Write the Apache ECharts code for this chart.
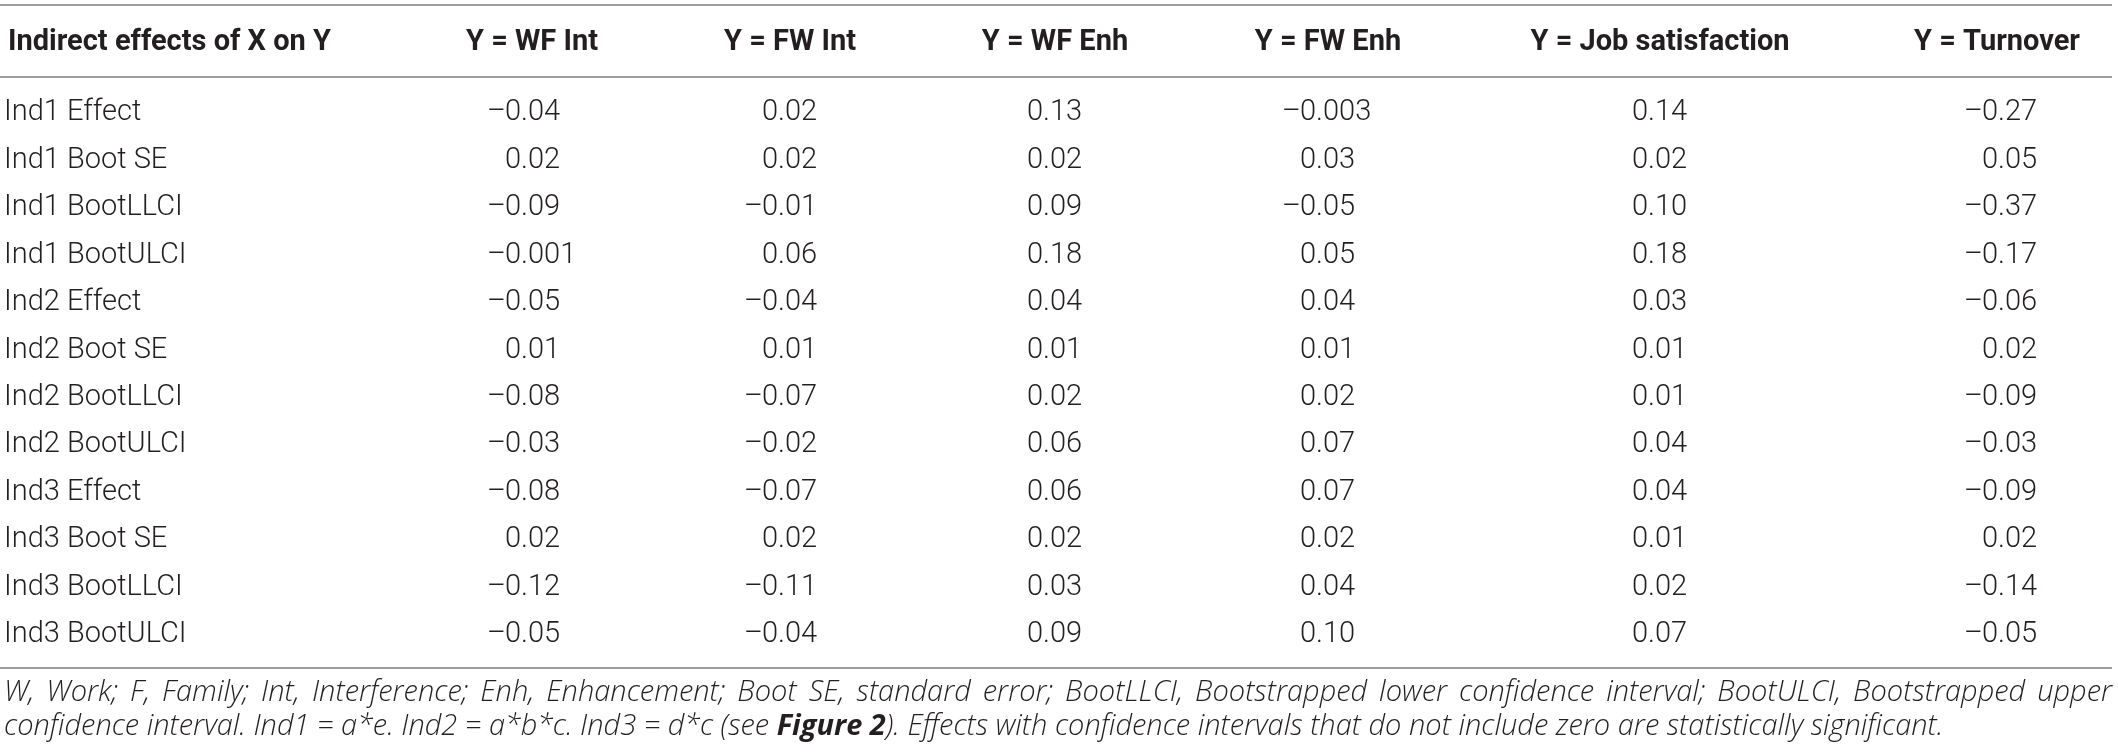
<!DOCTYPE html>
<html>
<head>
<meta charset="utf-8">
<script src="https://cdn.jsdelivr.net/npm/echarts@6/dist/echarts.min.js"></script>
<style>
  html, body { margin: 0; padding: 0; background: #fff; }
  #chart { width: 2118px; height: 754px; }
</style>
</head>
<body>
<div id="chart"></div>
<script>
// table content
const rowLabels = [
  'Ind1 Effect', 'Ind1 Boot SE', 'Ind1 BootLLCI', 'Ind1 BootULCI',
  'Ind2 Effect', 'Ind2 Boot SE', 'Ind2 BootLLCI', 'Ind2 BootULCI',
  'Ind3 Effect', 'Ind3 Boot SE', 'Ind3 BootLLCI', 'Ind3 BootULCI'
];
const cornerHeader = 'Indirect effects of X on Y';
const colHeaders = ['Y = WF Int', 'Y = FW Int', 'Y = WF Enh', 'Y = FW Enh', 'Y = Job satisfaction', 'Y = Turnover'];

const wfInt = ['-0.04', '0.02', '-0.09', '-0.001', '-0.05', '0.01', '-0.08', '-0.03', '-0.08', '0.02', '-0.12', '-0.05'];
const fwInt = ['0.02', '0.02', '-0.01', '0.06', '-0.04', '0.01', '-0.07', '-0.02', '-0.07', '0.02', '-0.11', '-0.04'];
const wfEnh = ['0.13', '0.02', '0.09', '0.18', '0.04', '0.01', '0.02', '0.06', '0.06', '0.02', '0.03', '0.09'];
const fwEnh = ['-0.003', '0.03', '-0.05', '0.05', '0.04', '0.01', '0.02', '0.07', '0.07', '0.02', '0.04', '0.10'];
const jobSat = ['0.14', '0.02', '0.10', '0.18', '0.03', '0.01', '0.01', '0.04', '0.04', '0.01', '0.02', '0.07'];
const turnover = ['-0.27', '0.05', '-0.37', '-0.17', '-0.06', '0.02', '-0.09', '-0.03', '-0.09', '0.02', '-0.14', '-0.05'];

const footLine1 = 'W, Work; F, Family; Int, Interference; Enh, Enhancement; Boot SE, standard error; BootLLCI, Bootstrapped lower confidence interval; BootULCI, Bootstrapped upper';
const footLine2a = 'confidence interval. Ind1 = a*e. Ind2 = a*b*c. Ind3 = d*c (see ';
const footLine2b = 'Figure 2';
const footLine2c = '). Effects with confidence intervals that do not include zero are statistically significant.';

const columns = [wfInt, fwInt, wfEnh, fwEnh, jobSat, turnover];

// layout (pixel positions on the hidden x axis)
const colValueX = [505, 762, 1027, 1300, 1632, 1982];
const colHeaderX = [532, 790, 1055, 1328, 1660, 1997];

const INK = '#231f20';
const RULE = '#9d9d9d';
const BODY_FONT = 'Roboto, "Liberation Sans", sans-serif';
const NOTE_FONT = '"Open Sans", Roboto, sans-serif';
const NOTE_SIZE = 29;

const cells = [];
columns.forEach((col, c) => col.forEach((v, r) => cells.push([c, r])));

// justify the first footnote line across the table width
const measureCtx = document.createElement('canvas').getContext('2d');
measureCtx.font = 'italic 300 ' + NOTE_SIZE + 'px ' + NOTE_FONT;
const noteWords = footLine1.split(' ');
const wordWidths = noteWords.map((w) => measureCtx.measureText(w).width);
const noteLeft = 4, noteRight = 2112;
const gap = (noteRight - noteLeft - wordWidths.reduce((a, b) => a + b, 0)) / (noteWords.length - 1);
const noteStyle = {
  fontFamily: NOTE_FONT, fontStyle: 'italic', fontWeight: 300, fontSize: NOTE_SIZE, fill: INK
};
const line1Words = [];
let cursor = noteLeft;
noteWords.forEach((w, i) => {
  line1Words.push({
    type: 'text', x: cursor, y: 693,
    style: Object.assign({ text: w, align: 'left', verticalAlign: 'middle' }, noteStyle)
  });
  cursor += wordWidths[i] + gap;
});

const chart = echarts.init(document.getElementById('chart'));

chart.setOption({
  backgroundColor: '#fff',
  animation: false,
  grid: { left: 0, right: 0, top: 89.3, bottom: 95.3, containLabel: false, outerBoundsMode: 'none' },
  xAxis: {
    type: 'value',
    position: 'top',
    min: 0,
    max: 2118,
    splitLine: { show: false },
    axisLine: { show: false },
    axisTick: { show: false },
    axisLabel: {
      customValues: colHeaderX,
      formatter: (v) => colHeaders[colHeaderX.indexOf(v)] || '',
      margin: 47,
      verticalAlign: 'middle',
      fontFamily: BODY_FONT,
      fontWeight: 'bold',
      fontSize: 29,
      color: INK
    }
  },
  yAxis: {
    type: 'category',
    data: rowLabels,
    inverse: true,
    axisLine: { show: false },
    axisTick: { show: false },
    splitLine: { show: false },
    axisLabel: {
      inside: true,
      margin: 4,
      align: 'left',
      fontFamily: BODY_FONT,
      fontWeight: 300,
      fontSize: 29,
      color: INK
    },
    name: cornerHeader,
    nameLocation: 'start',
    nameGap: 47,
    nameTextStyle: {
      align: 'left',
      verticalAlign: 'middle',
      padding: [0, 0, 0, 8],
      fontFamily: BODY_FONT,
      fontWeight: 'bold',
      fontSize: 29,
      color: INK
    }
  },
  series: [{
    type: 'custom',
    data: cells,
    silent: true,
    clip: false,
    renderItem: (params, api) => {
      const c = api.value(0);
      const r = api.value(1);
      const raw = columns[c][r];
      const neg = raw.charAt(0) === '-';
      const pt = api.coord([colValueX[c], r]);
      const font = { fontFamily: BODY_FONT, fontWeight: 300, fontSize: 29, fill: INK };
      const children = [{
        type: 'text',
        x: pt[0], y: pt[1],
        style: Object.assign({ text: neg ? raw.slice(1) : raw, align: 'left', verticalAlign: 'middle' }, font)
      }];
      if (neg) {
        children.push({
          type: 'text',
          x: pt[0] + 1, y: pt[1],
          style: Object.assign({ text: '\u2013', align: 'right', verticalAlign: 'middle' }, font)
        });
      }
      return { type: 'group', children: children };
    }
  }],
  graphic: [
    { type: 'line', shape: { x1: 0, y1: 5, x2: 2112, y2: 5 }, style: { stroke: RULE, lineWidth: 2 } },
    { type: 'line', shape: { x1: 0, y1: 77, x2: 2112, y2: 77 }, style: { stroke: RULE, lineWidth: 2 } },
    { type: 'line', shape: { x1: 0, y1: 668, x2: 2112, y2: 668 }, style: { stroke: RULE, lineWidth: 2 } },
    { type: 'group', children: line1Words },
    {
      type: 'text',
      x: noteLeft,
      y: 727,
      style: Object.assign({
        text: footLine2a + '{b|' + footLine2b + '}' + footLine2c,
        verticalAlign: 'middle',
        rich: {
          b: Object.assign({}, noteStyle, { fontWeight: 'bold' })
        }
      }, noteStyle)
    }
  ]
});
</script>
</body>
</html>
